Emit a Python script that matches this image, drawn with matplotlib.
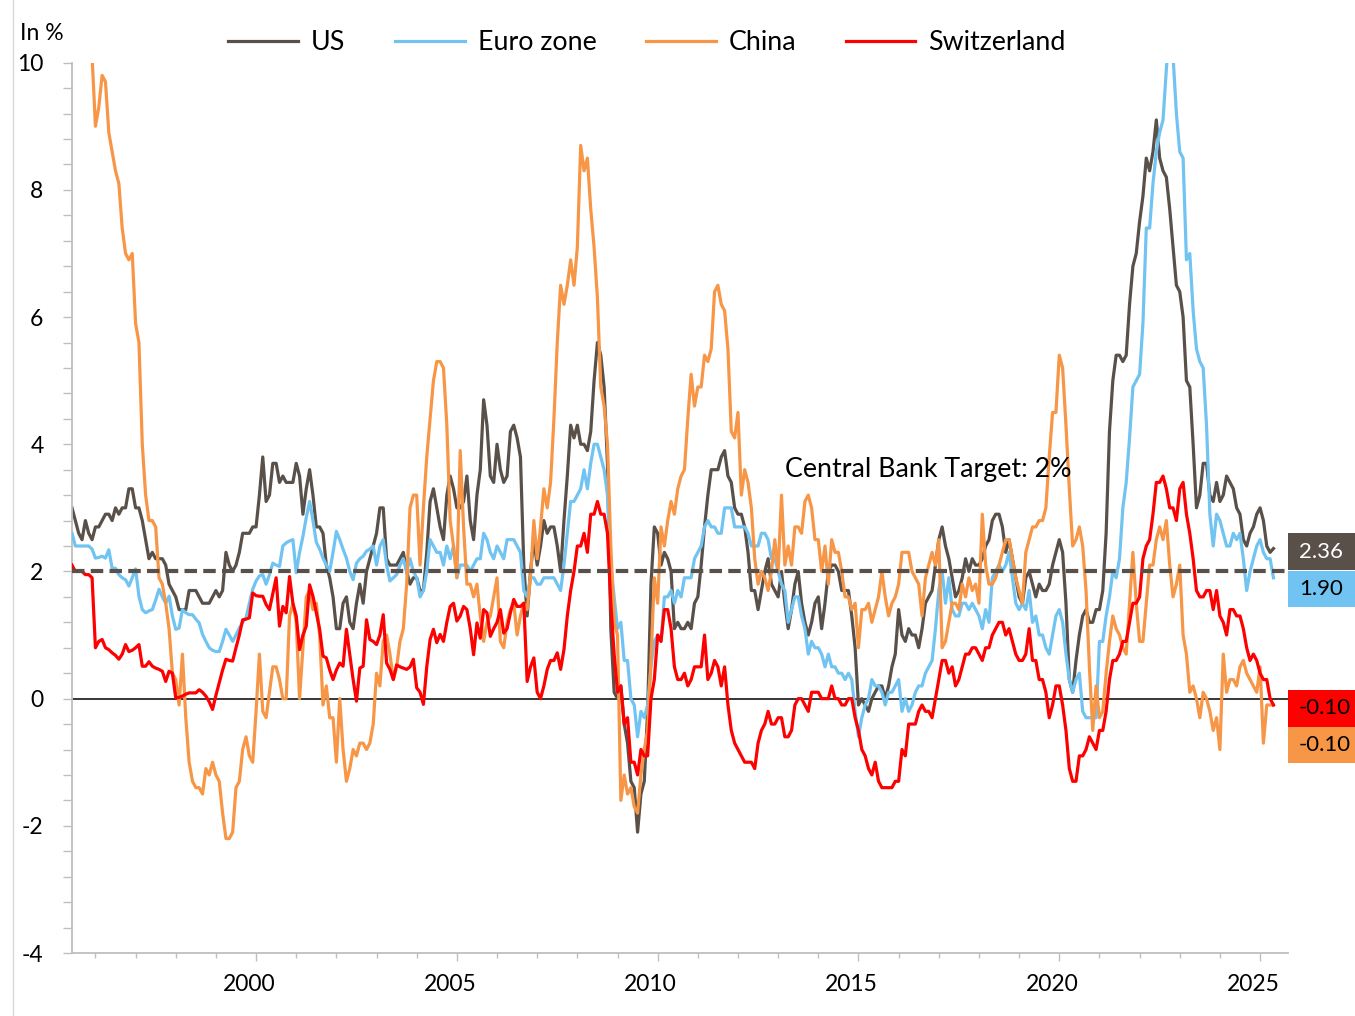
import numpy as np
import matplotlib
matplotlib.use("Agg")
import matplotlib.pyplot as plt
from matplotlib.patches import Rectangle
from matplotlib.lines import Line2D
from matplotlib.ticker import FixedLocator, MultipleLocator
from matplotlib.transforms import ScaledTranslation

plt.rcParams['font.family'] = ['Lato', 'DejaVu Sans']

# ---------------- data: monthly y/y inflation in %, June 1995 .. May 2025 ----------------
start_year = 1995
start_month = 6

us = [
    3.0, 2.8, 2.6, 2.5, 2.8, 2.6, 2.5,                                  # 1995 (Jun-Dec)
    2.7, 2.7, 2.8, 2.9, 2.9, 2.8, 3.0, 2.9, 3.0, 3.0, 3.3, 3.3,          # 1996
    3.0, 3.0, 2.8, 2.5, 2.2, 2.3, 2.2, 2.2, 2.2, 2.1, 1.8, 1.7,          # 1997
    1.6, 1.4, 1.4, 1.4, 1.7, 1.7, 1.7, 1.6, 1.5, 1.5, 1.5, 1.6,          # 1998
    1.7, 1.6, 1.7, 2.3, 2.1, 2.0, 2.1, 2.3, 2.6, 2.6, 2.6, 2.7,          # 1999
    2.7, 3.2, 3.8, 3.1, 3.2, 3.7, 3.7, 3.4, 3.5, 3.4, 3.4, 3.4,          # 2000
    3.7, 3.5, 2.9, 3.3, 3.6, 3.2, 2.7, 2.7, 2.6, 2.1, 1.9, 1.6,          # 2001
    1.1, 1.1, 1.5, 1.6, 1.2, 1.1, 1.5, 1.8, 1.5, 2.0, 2.2, 2.4,          # 2002
    2.6, 3.0, 3.0, 2.2, 2.1, 2.1, 2.1, 2.2, 2.3, 2.0, 1.8, 1.9,          # 2003
    1.9, 1.7, 1.7, 2.3, 3.1, 3.3, 3.0, 2.7, 2.5, 3.2, 3.5, 3.3,          # 2004
    3.0, 3.0, 3.1, 3.5, 2.8, 2.5, 3.2, 3.6, 4.7, 4.3, 3.5, 3.4,          # 2005
    4.0, 3.6, 3.4, 3.5, 4.2, 4.3, 4.1, 3.8, 2.1, 1.3, 2.0, 2.5,          # 2006
    2.1, 2.4, 2.8, 2.6, 2.7, 2.7, 2.4, 2.0, 2.8, 3.5, 4.3, 4.1,          # 2007
    4.3, 4.0, 4.0, 3.9, 4.2, 5.0, 5.6, 5.4, 4.9, 3.7, 1.1, 0.1,          # 2008
    0.0, 0.2, -0.4, -0.7, -1.3, -1.4, -2.1, -1.5, -1.3, -0.2, 1.8, 2.7,  # 2009
    2.6, 2.1, 2.3, 2.2, 2.0, 1.1, 1.2, 1.1, 1.1, 1.2, 1.1, 1.5,          # 2010
    1.6, 2.1, 2.7, 3.2, 3.6, 3.6, 3.6, 3.8, 3.9, 3.5, 3.4, 3.0,          # 2011
    2.9, 2.9, 2.7, 2.3, 1.7, 1.7, 1.4, 1.7, 2.0, 2.2, 1.8, 1.7,          # 2012
    1.6, 2.0, 1.5, 1.1, 1.4, 1.8, 2.0, 1.5, 1.2, 1.0, 1.2, 1.5,          # 2013
    1.6, 1.1, 1.5, 2.0, 2.1, 2.1, 2.0, 1.7, 1.7, 1.7, 1.3, 0.8,          # 2014
    -0.1, 0.0, -0.1, -0.2, 0.0, 0.1, 0.2, 0.2, 0.0, 0.2, 0.5, 0.7,      # 2015
    1.4, 1.0, 0.9, 1.1, 1.0, 1.0, 0.8, 1.1, 1.5, 1.6, 1.7, 2.1,          # 2016
    2.5, 2.7, 2.4, 2.2, 1.9, 1.6, 1.7, 1.9, 2.2, 2.0, 2.2, 2.1,          # 2017
    2.1, 2.2, 2.4, 2.5, 2.8, 2.9, 2.9, 2.7, 2.3, 2.5, 2.2, 1.9,          # 2018
    1.6, 1.5, 1.9, 2.0, 1.8, 1.6, 1.8, 1.7, 1.7, 1.8, 2.1, 2.3,          # 2019
    2.5, 2.3, 1.5, 0.3, 0.1, 0.6, 1.0, 1.3, 1.4, 1.2, 1.2, 1.4,          # 2020
    1.4, 1.7, 2.6, 4.2, 5.0, 5.4, 5.4, 5.3, 5.4, 6.2, 6.8, 7.0,          # 2021
    7.5, 7.9, 8.5, 8.3, 8.6, 9.1, 8.5, 8.3, 8.2, 7.7, 7.1, 6.5,          # 2022
    6.4, 6.0, 5.0, 4.9, 4.0, 3.0, 3.2, 3.7, 3.7, 3.2, 3.1, 3.4,          # 2023
    3.1, 3.2, 3.5, 3.4, 3.3, 3.0, 2.9, 2.5, 2.4, 2.6, 2.7, 2.9,          # 2024
    3.0, 2.8, 2.4, 2.3, 2.36,                                           # 2025 (Jan-May)
]

euro = [
    2.6, 2.4, 2.4, 2.4, 2.4, 2.4, 2.35,                                 # 1995
    2.21, 2.22, 2.24, 2.21, 2.34, 2.05, 2.05, 1.95, 1.9, 1.87, 1.77, 1.9,   # 1996
    2.04, 1.61, 1.4, 1.35, 1.38, 1.4, 1.55, 1.72, 1.6, 1.5, 1.61, 1.3,      # 1997
    1.09, 1.11, 1.4, 1.35, 1.32, 1.32, 1.25, 1.19, 1.01, 0.9, 0.8, 0.76,    # 1998
    0.74, 0.74, 0.9, 1.09, 1.0, 0.9, 1.0, 1.11, 1.2, 1.27, 1.5, 1.72,       # 1999
    1.85, 1.93, 1.95, 1.8, 1.95, 2.13, 2.1, 2.08, 2.4, 2.45, 2.48, 2.5,     # 2000
    1.98, 2.3, 2.55, 2.85, 3.1, 2.8, 2.46, 2.35, 2.21, 2.1, 2.0, 2.3,       # 2001
    2.63, 2.5, 2.35, 2.21, 2.0, 1.87, 2.13, 2.2, 2.24, 2.32, 2.35, 2.4,     # 2002
    2.1, 2.4, 2.5, 2.1, 1.85, 1.9, 1.95, 2.1, 2.2, 2.0, 2.2, 2.0,           # 2003
    1.9, 1.6, 1.7, 2.0, 2.5, 2.4, 2.3, 2.3, 2.1, 2.4, 2.2, 2.4,             # 2004
    1.9, 2.1, 2.1, 2.1, 2.0, 2.1, 2.2, 2.2, 2.6, 2.5, 2.3, 2.2,             # 2005
    2.4, 2.3, 2.2, 2.5, 2.5, 2.5, 2.4, 2.3, 1.7, 1.6, 1.9, 1.9,             # 2006
    1.8, 1.8, 1.9, 1.9, 1.9, 1.9, 1.8, 1.7, 2.1, 2.6, 3.1, 3.1,             # 2007
    3.2, 3.3, 3.6, 3.3, 3.7, 4.0, 4.0, 3.8, 3.6, 3.2, 2.1, 1.6,             # 2008
    1.1, 1.2, 0.6, 0.6, 0.0, -0.1, -0.6, -0.2, -0.3, -0.1, 0.5, 0.9,        # 2009
    1.0, 0.9, 1.6, 1.6, 1.7, 1.5, 1.7, 1.6, 1.9, 1.9, 1.9, 2.2,             # 2010
    2.3, 2.4, 2.7, 2.8, 2.7, 2.7, 2.6, 2.6, 3.0, 3.0, 3.0, 2.7,             # 2011
    2.7, 2.7, 2.7, 2.6, 2.4, 2.4, 2.4, 2.6, 2.6, 2.5, 2.2, 2.2,             # 2012
    2.0, 1.8, 1.7, 1.2, 1.4, 1.6, 1.6, 1.3, 1.1, 0.7, 0.9, 0.8,             # 2013
    0.8, 0.7, 0.5, 0.7, 0.5, 0.5, 0.4, 0.4, 0.3, 0.4, 0.3, -0.2,            # 2014
    -0.6, -0.3, -0.1, 0.0, 0.3, 0.2, 0.2, 0.1, -0.1, 0.1, 0.1, 0.2,         # 2015
    0.3, -0.2, 0.0, -0.2, -0.1, 0.1, 0.2, 0.2, 0.4, 0.5, 0.6, 1.1,          # 2016
    1.7, 2.0, 1.5, 1.9, 1.4, 1.3, 1.3, 1.5, 1.5, 1.4, 1.5, 1.4,             # 2017
    1.3, 1.1, 1.4, 1.2, 1.9, 2.0, 2.1, 2.0, 2.1, 2.3, 1.9, 1.5,             # 2018
    1.4, 1.5, 1.4, 1.7, 1.2, 1.3, 1.0, 1.0, 0.8, 0.7, 1.0, 1.3,             # 2019
    1.4, 1.2, 0.7, 0.3, 0.1, 0.3, 0.4, -0.2, -0.3, -0.3, -0.3, -0.3,        # 2020
    0.9, 0.9, 1.3, 1.6, 2.0, 1.9, 2.2, 3.0, 3.4, 4.1, 4.9, 5.0,             # 2021
    5.1, 5.9, 7.4, 7.4, 8.1, 8.6, 8.9, 9.1, 9.9, 10.6, 10.1, 9.2,           # 2022
    8.6, 8.5, 6.9, 7.0, 6.1, 5.5, 5.3, 5.2, 4.3, 2.9, 2.4, 2.9,             # 2023
    2.8, 2.6, 2.4, 2.4, 2.6, 2.5, 2.6, 2.2, 1.7, 2.0, 2.2, 2.4,             # 2024
    2.5, 2.3, 2.2, 2.2, 1.9,                                               # 2025
]

china = [
    18.2, 16.7, 14.5, 13.2, 12.1, 11.2, 10.1,                           # 1995
    9.0, 9.3, 9.8, 9.7, 8.9, 8.6, 8.3, 8.1, 7.4, 7.0, 6.9, 7.0,          # 1996
    5.9, 5.6, 4.0, 3.2, 2.8, 2.8, 2.7, 1.9, 1.8, 1.5, 1.1, 0.4,          # 1997
    0.3, -0.1, 0.7, -0.3, -1.0, -1.3, -1.4, -1.4, -1.5, -1.1, -1.2, -1.0,  # 1998
    -1.2, -1.3, -1.8, -2.2, -2.2, -2.1, -1.4, -1.3, -0.8, -0.6, -0.9, -1.0,  # 1999
    -0.2, 0.7, -0.2, -0.3, 0.1, 0.5, 0.5, 0.3, 0.0, 0.0, 1.3, 1.5,       # 2000
    1.2, 0.0, 0.8, 1.6, 1.7, 1.4, 1.5, 1.0, -0.1, 0.2, -0.3, -0.3,       # 2001
    -1.0, 0.0, -0.8, -1.3, -1.1, -0.8, -0.9, -0.7, -0.7, -0.8, -0.7, -0.4,  # 2002
    0.4, 0.2, 0.9, 1.0, 0.7, 0.3, 0.5, 0.9, 1.1, 1.8, 3.0, 3.2,          # 2003
    3.2, 2.1, 3.0, 3.8, 4.4, 5.0, 5.3, 5.3, 5.2, 4.3, 2.8, 2.4,          # 2004
    1.9, 3.9, 2.7, 1.8, 1.8, 1.6, 1.8, 1.3, 0.9, 1.2, 1.3, 1.6,          # 2005
    1.9, 0.9, 0.8, 1.2, 1.4, 1.5, 1.0, 1.3, 1.5, 1.4, 1.9, 2.8,          # 2006
    2.2, 2.7, 3.3, 3.0, 3.4, 4.4, 5.6, 6.5, 6.2, 6.5, 6.9, 6.5,          # 2007
    7.1, 8.7, 8.3, 8.5, 7.7, 7.1, 6.3, 4.9, 4.6, 4.0, 2.4, 1.2,          # 2008
    1.0, -1.6, -1.2, -1.5, -1.4, -1.7, -1.8, -1.2, -0.8, -0.5, 0.6, 1.9,  # 2009
    1.5, 2.7, 2.4, 2.8, 3.1, 2.9, 3.3, 3.5, 3.6, 4.4, 5.1, 4.6,          # 2010
    4.9, 4.9, 5.4, 5.3, 5.5, 6.4, 6.5, 6.2, 6.1, 5.5, 4.2, 4.1,          # 2011
    4.5, 3.2, 3.6, 3.4, 3.0, 2.2, 1.8, 2.0, 1.9, 1.7, 2.0, 2.5,          # 2012
    2.0, 3.2, 2.1, 2.4, 2.1, 2.7, 2.7, 2.6, 3.1, 3.2, 3.0, 2.5,          # 2013
    2.5, 2.0, 2.4, 1.8, 2.5, 2.3, 2.3, 2.0, 1.6, 1.6, 1.4, 1.5,          # 2014
    0.8, 1.4, 1.4, 1.5, 1.2, 1.4, 1.6, 2.0, 1.6, 1.3, 1.5, 1.6,          # 2015
    1.8, 2.3, 2.3, 2.3, 2.0, 1.9, 1.8, 1.3, 1.9, 2.1, 2.3, 2.1,          # 2016
    2.5, 0.8, 0.9, 1.2, 1.5, 1.5, 1.4, 1.8, 1.6, 1.9, 1.7, 1.8,          # 2017
    1.5, 2.9, 2.1, 1.8, 1.8, 1.9, 2.1, 2.3, 2.5, 2.5, 2.2, 1.9,          # 2018
    1.7, 1.5, 2.3, 2.5, 2.7, 2.7, 2.8, 2.8, 3.0, 3.8, 4.5, 4.5,          # 2019
    5.4, 5.2, 4.3, 3.3, 2.4, 2.5, 2.7, 2.4, 1.7, 0.5, -0.5, 0.2,         # 2020
    -0.3, -0.2, 0.4, 0.9, 1.3, 1.1, 1.0, 0.8, 0.7, 1.5, 2.3, 1.5,        # 2021
    0.9, 0.9, 1.5, 2.1, 2.1, 2.5, 2.7, 2.5, 2.8, 2.1, 1.6, 1.8,          # 2022
    2.1, 1.0, 0.7, 0.1, 0.2, 0.0, -0.3, 0.1, 0.0, -0.2, -0.5, -0.3,      # 2023
    -0.8, 0.7, 0.1, 0.3, 0.3, 0.2, 0.5, 0.6, 0.4, 0.3, 0.2, 0.1,         # 2024
    0.5, -0.7, -0.1, -0.1, -0.1,                                        # 2025
]

swiss = [
    2.1, 2.0, 2.0, 2.0, 1.95, 1.95, 1.9,                                # 1995
    0.8, 0.9, 0.93, 0.8, 0.77, 0.72, 0.68, 0.62, 0.7, 0.85, 0.74, 0.76,    # 1996
    0.8, 0.85, 0.51, 0.51, 0.58, 0.51, 0.48, 0.46, 0.43, 0.27, 0.43, 0.4,  # 1997
    0.01, 0.02, 0.04, 0.07, 0.09, 0.09, 0.09, 0.14, 0.1, 0.04, -0.05, -0.17,  # 1998
    0.05, 0.25, 0.45, 0.62, 0.6, 0.59, 0.8, 1.0, 1.24, 1.25, 1.27, 1.66,   # 1999
    1.62, 1.61, 1.61, 1.48, 1.4, 1.65, 1.9, 1.14, 1.45, 1.35, 1.92, 1.5,   # 2000
    1.3, 0.77, 1.0, 1.14, 1.79, 1.61, 1.35, 1.09, 0.67, 0.64, 0.45, 0.3,   # 2001
    0.45, 0.56, 0.51, 1.09, 0.7, 0.3, -0.04, 0.48, 0.51, 1.24, 0.93, 0.9,  # 2002
    0.85, 1.0, 1.32, 0.56, 0.46, 0.3, 0.53, 0.5, 0.48, 0.46, 0.5, 0.62,    # 2003
    0.17, 0.1, -0.09, 0.5, 0.93, 1.09, 0.88, 1.01, 0.9, 1.2, 1.45, 1.5,    # 2004
    1.22, 1.3, 1.45, 1.4, 1.1, 0.69, 1.19, 0.95, 1.4, 1.35, 0.98, 1.1,     # 2005
    1.2, 1.4, 1.03, 1.1, 1.35, 1.56, 1.45, 1.45, 1.5, 0.27, 0.5, 0.64,     # 2006
    0.1, 0.0, 0.2, 0.46, 0.6, 0.6, 0.72, 0.46, 0.77, 1.3, 1.7, 2.0,        # 2007
    2.4, 2.4, 2.6, 2.3, 2.9, 2.9, 3.1, 2.9, 2.9, 2.6, 1.5, 0.7,            # 2008
    0.1, 0.2, -0.4, -0.3, -1.0, -1.0, -1.2, -0.8, -0.9, -0.9, 0.0, 0.3,    # 2009
    1.0, 0.9, 1.4, 1.4, 1.1, 0.5, 0.3, 0.3, 0.4, 0.2, 0.3, 0.5,            # 2010
    0.5, 0.5, 1.0, 0.3, 0.4, 0.6, 0.5, 0.2, 0.5, -0.1, -0.5, -0.7,         # 2011
    -0.8, -0.9, -1.0, -1.0, -1.0, -1.1, -0.7, -0.5, -0.4, -0.2, -0.4, -0.4,  # 2012
    -0.3, -0.3, -0.6, -0.6, -0.5, -0.1, 0.0, 0.0, -0.1, -0.2, 0.1, 0.1,    # 2013
    0.1, 0.0, 0.0, 0.0, 0.2, 0.0, 0.0, -0.1, -0.1, 0.0, 0.0, -0.3,         # 2014
    -0.5, -0.8, -0.9, -1.1, -1.2, -1.0, -1.3, -1.4, -1.4, -1.4, -1.4, -1.3,  # 2015
    -1.3, -0.8, -0.9, -0.4, -0.4, -0.4, -0.2, -0.1, -0.2, -0.2, -0.3, 0.0,  # 2016
    0.3, 0.6, 0.6, 0.4, 0.5, 0.2, 0.3, 0.5, 0.7, 0.7, 0.8, 0.8,            # 2017
    0.7, 0.6, 0.8, 0.8, 1.0, 1.1, 1.2, 1.2, 1.0, 1.1, 0.9, 0.7,            # 2018
    0.6, 0.6, 0.7, 1.1, 0.6, 0.6, 0.3, 0.3, 0.1, -0.3, -0.1, 0.2,          # 2019
    0.2, -0.1, -0.5, -1.1, -1.3, -1.3, -0.9, -0.9, -0.8, -0.6, -0.7, -0.8,  # 2020
    -0.5, -0.5, -0.2, 0.3, 0.6, 0.6, 0.7, 0.9, 0.9, 1.2, 1.5, 1.5,         # 2021
    1.6, 2.2, 2.4, 2.5, 2.9, 3.4, 3.4, 3.5, 3.3, 3.0, 3.0, 2.8,            # 2022
    3.3, 3.4, 2.9, 2.6, 2.2, 1.7, 1.6, 1.6, 1.7, 1.7, 1.4, 1.7,            # 2023
    1.3, 1.2, 1.0, 1.4, 1.4, 1.3, 1.3, 1.1, 0.8, 0.6, 0.7, 0.6,            # 2024
    0.4, 0.3, 0.3, 0.0, -0.1,                                           # 2025
]

series_names = ["US", "Euro zone", "China", "Switzerland"]
series_colors = ["#595049", "#71C3F1", "#F79646", "#FF0000"]
x_tick_years = [2000, 2005, 2010, 2015, 2020, 2025]
y_tick_values = [-4, -2, 0, 2, 4, 6, 8, 10]
target_rate = 2.0
target_label = "Central Bank Target: 2%"

# ---------------- figure ----------------
W, H = 1355, 1016
fig = plt.figure(figsize=(W / 100, H / 100), dpi=100)
ax = fig.add_axes([72 / W, 1 - 953 / H, (1288 - 72) / W, (953 - 62.7) / H])

n = len(us)
dates = start_year + (start_month - 1) / 12 + np.arange(n) / 12
x0 = start_year + (start_month - 1) / 12
px_per_year = 40.16
ax.set_xlim(x0, x0 + (1288 - 72) / px_per_year)
ax.set_ylim(-4, 10)

ax.axhline(0, color="black", lw=1.1, zorder=1)
for vals, col, z in zip([us, euro, china, swiss], series_colors, [2, 3, 4, 5]):
    ax.plot(dates, vals, color=col, lw=2.3, zorder=z, solid_joinstyle="round")
ax.axhline(target_rate, color="#595049", lw=3.0, linestyle=(0, (3.0, 1.5)), zorder=6)

ax.text(x0 + (785 - 72) / px_per_year, (699 - 477) / 63.6, target_label,
        fontsize=19.3, ha="left", va="baseline", color="black", zorder=7)

# spines and ticks
for s in ["top", "right"]:
    ax.spines[s].set_visible(False)
for s in ["left", "bottom"]:
    ax.spines[s].set_color("#BFBFBF")
    ax.spines[s].set_linewidth(1.3)

ax.yaxis.set_major_locator(FixedLocator(y_tick_values))
ax.set_yticklabels([str(v) for v in y_tick_values])
ax.yaxis.set_minor_locator(MultipleLocator(0.4))
ax.tick_params(axis="y", which="both", direction="out", length=6.5, width=1.0,
               color="#BFBFBF", labelsize=16.5, pad=14, labelcolor="black")

ax.xaxis.set_major_locator(FixedLocator(x_tick_years))
ax.set_xticklabels([str(v) for v in x_tick_years])
ax.xaxis.set_minor_locator(FixedLocator(list(range(1996, 2026))))
ax.tick_params(axis="x", which="major", direction="out", length=6, width=1.0,
               color="#BFBFBF", labelsize=16.5, pad=9, labelcolor="black")
ax.tick_params(axis="x", which="minor", direction="out", length=3.5, width=1.0,
               color="#BFBFBF")
shift = ScaledTranslation(-7 / 100, 0, fig.dpi_scale_trans)
for lab in ax.get_xticklabels():
    lab.set_transform(lab.get_transform() + shift)

fig.text(20 / W, 1 - 34 / H, "In %", fontsize=16.5, ha="left", va="center")

# faint chart border on the left
fig.add_artist(Line2D([13 / W, 13 / W], [0, 1], transform=fig.transFigure,
                      color="#D9D9D9", lw=1.0))

# legend
handles = [Line2D([], [], color=c, lw=2.3) for c in series_colors]
fig.legend(handles, series_names, loc="center", bbox_to_anchor=(647 / W, 1 - 43 / H),
           ncol=4, frameon=False, fontsize=19.3, handlelength=2.6,
           handletextpad=0.48, columnspacing=1.85)

# last-value boxes on the right
last_boxes = [
    (us[-1], series_colors[0], "white", 533, 570),
    (euro[-1], series_colors[1], "black", 571, 607),
    (swiss[-1], series_colors[3], "black", 690, 727),
    (china[-1], series_colors[2], "black", 727, 763),
]
for val, col, tcol, top_px, bot_px in last_boxes:
    fig.add_artist(Rectangle((1288 / W, 1 - bot_px / H), 100 / W, (bot_px - top_px) / H,
                             transform=fig.transFigure, facecolor=col, edgecolor="none"))
    fig.text(1299 / W, 1 - (top_px + bot_px) / 2 / H, f"{val:.2f}", fontsize=16,
             ha="left", va="center", color=tcol)

fig.savefig("out.png", dpi=100)
